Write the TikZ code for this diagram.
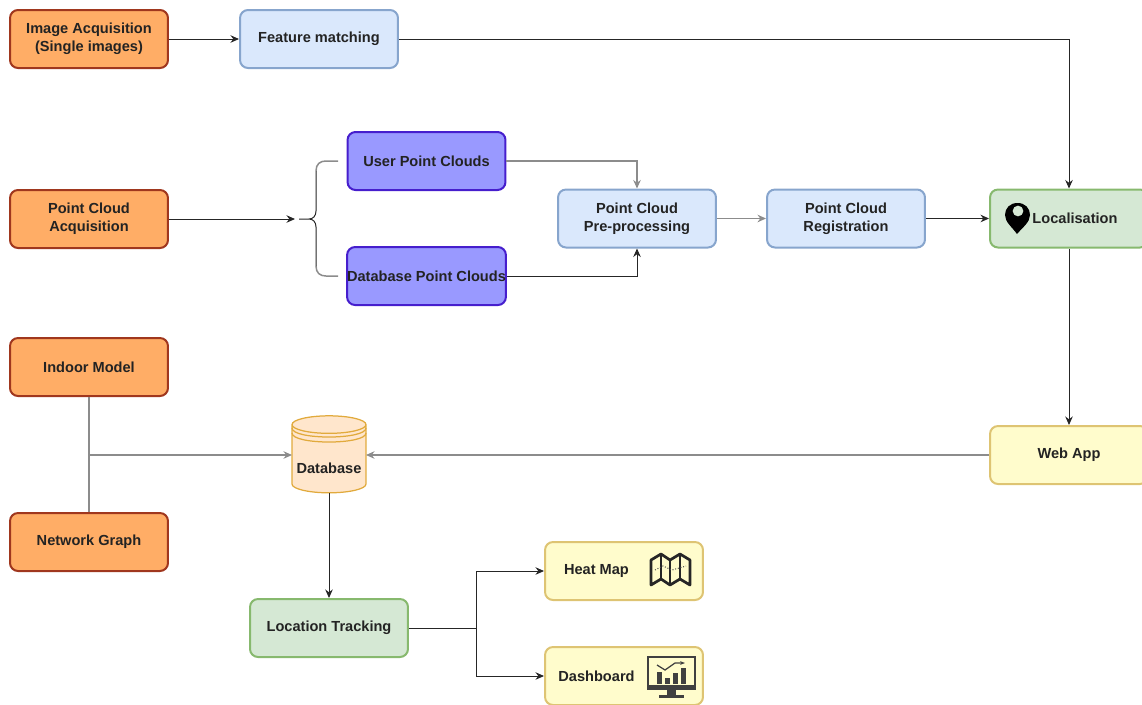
\documentclass[tikz,border=0pt]{standalone}
\usepackage{fontspec}
\setmainfont{Liberation Sans}
\usepackage{xcolor}
\definecolor{myorange}{RGB}{255,173,102}
\definecolor{myorangeline}{RGB}{160,55,30}
\definecolor{myblue}{RGB}{218,232,252}
\definecolor{mybluelin}{RGB}{135,165,205}
\definecolor{mypurple}{RGB}{153,153,255}
\definecolor{mypurpleline}{RGB}{70,30,205}
\definecolor{mygreen}{RGB}{213,232,212}
\definecolor{mygreenline}{RGB}{135,185,110}
\definecolor{myyellow}{RGB}{255,252,204}
\definecolor{myyellowline}{RGB}{222,196,115}
\definecolor{mypeach}{RGB}{255,230,204}
\definecolor{mypeachline}{RGB}{225,170,60}
\definecolor{myink}{RGB}{35,35,35}
\usepackage{tikz}
\usetikzlibrary{positioning}
\usetikzlibrary{arrows.meta}
\usetikzlibrary{shapes.geometric,calc}

\tikzset{
    box/.style={rectangle,rounded corners=0.16cm,line width=0.04cm,minimum width=3.16cm,
        minimum height=1.16cm,align=center,inner sep=0pt,text=myink,
        font=\fontsize{8.3}{10}\selectfont\bfseries},
    orangebox/.style={box,fill=myorange,draw=myorangeline},
    bluebox/.style={box,fill=myblue,draw=mybluelin},
    purplebox/.style={box,fill=mypurple,draw=mypurpleline},
    greenbox/.style={box,fill=mygreen,draw=mygreenline},
    yellowbox/.style={box,fill=myyellow,draw=myyellowline},
    link/.style={draw=black!85,line width=0.02cm},
    paleline/.style={draw=black!45,line width=0.03cm},
}

\begin{document}
\begin{tikzpicture}[x=0.02cm,y=-0.02cm,>={Stealth[length=0.17cm,width=0.15cm]}]
\useasboundingbox (0,0) rectangle (1142,704);

\node[orangebox] (image) at (89,39) {Image Acquisition\\(Single images)};
\node[bluebox] (feature) at (319,39) {Feature matching};
\node[orangebox] (cloud) at (89,219) {Point Cloud\\Acquisition};
\node[purplebox] (user) at (426.5,161) {User Point Clouds};
\node[purplebox] (dbcloud) at (426.5,276) {Database Point Clouds};
\node[bluebox] (pre) at (637,218.5) {Point Cloud\\Pre-processing};
\node[bluebox] (reg) at (846,218.5) {Point Cloud\\Registration};
\node[greenbox] (local) at (1069,218.5) {\hspace*{0.24cm}Localisation};
\node[yellowbox] (web) at (1069,455) {Web App};
\node[orangebox] (indoor) at (89,367) {Indoor Model};
\node[orangebox] (graph) at (89,542) {Network Graph};
\node[greenbox] (track) at (329,628) {Location Tracking};
\node[yellowbox] (heat) at (624,571) {Heat Map\hspace*{1.1cm}};
\node[yellowbox] (dash) at (624,676) {Dashboard\hspace*{1.1cm}};

% database drum
\node[cylinder,shape border rotate=90,aspect=0.27,minimum width=1.48cm,minimum height=1.54cm,
      inner sep=0pt,fill=mypeach,draw=mypeachline,line width=0.025cm,text=myink,
      font=\fontsize{8.3}{10}\selectfont\bfseries] (db) at (329,459) {\raisebox{-0.6cm}{Database}};
\draw[mypeachline,line width=0.025cm] (292,428) .. controls (292,440) and (366,440) .. (366,428);
\draw[mypeachline,line width=0.025cm] (292,433) .. controls (292,445) and (366,445) .. (366,433);

\coordinate (bracetip) at (295,219);
\coordinate (join) at (89,455);
\coordinate (dbleft) at (292,455);
\coordinate (dbright) at (366,455);
\coordinate (branch) at (476,628);

\begin{scope}[every edge/.style={link}]
    \path [->] (image) edge (feature);
    \path [->] (cloud) edge (bracetip);
    \path [->] (reg) edge (local);
    \path [->] (local) edge (web);
    \path [->] (db) edge (track);
    \path [->] (feature) edge[to path={-| (\tikztotarget)}] (local);
    \path [->] (dbcloud) edge[to path={-| (\tikztotarget)}] (pre);
    \path (track) edge (branch);
    \path [->] (branch) edge[to path={|- (\tikztotarget)}] (heat);
    \path [->] (branch) edge[to path={|- (\tikztotarget)}] (dash);
\end{scope}
\begin{scope}[every edge/.style={paleline}]
    \path [->] (user) edge[to path={-| (\tikztotarget)}] (pre);
    \path [->] (pre) edge (reg);
    \path [->] (web) edge (dbright);
    \path [->] (join) edge (dbleft);
    \path (indoor) edge (graph);
\end{scope}

% brace
\draw[paleline] (338,161) -- (326,161) .. controls (320,161) and (316,164) .. (316,171);
\draw[paleline] (338,276) -- (326,276) .. controls (320,276) and (316,273) .. (316,266);
\draw[link] (316,171) -- (316,211) .. controls (316,216) and (313,219) .. (309,219) -- (299,219)
    (309,219) .. controls (313,219) and (316,222) .. (316,227) -- (316,266);

% pin icon
\fill[black,even odd rule] (1017,234) .. controls (1012,227) and (1005,222) .. (1005,215)
    .. controls (1005,208) and (1010,203) .. (1017.5,203) .. controls (1025,203) and (1030,208) .. (1030,215)
    .. controls (1030,222) and (1023,227) .. (1017,234) -- cycle
    (1018,211) circle [radius=5.5];

% map icon
\begin{scope}[line width=0.055cm,draw=black!85,line join=round]
    \draw (651,560) -- (661,554) -- (670,560) -- (680,554) -- (690,560) -- (690,585) -- (680,579)
        -- (670,585) -- (661,579) -- (651,585) -- cycle;
    \draw (661,554) -- (661,579) (670,560) -- (670,585) (680,554) -- (680,579);
\end{scope}
\draw[black!70,line width=0.02cm,densely dotted] (655,570) -- (663,566) -- (672,570) -- (686,566);

% monitor icon
\draw[black!75,line width=0.03cm] (648,686) -- (648,657) -- (695,657) -- (695,686);
\fill[black!75] (647,685) rectangle (696,690);
\fill[black!75] (667,690) rectangle (676,695);
\fill[black!75] (659,695) rectangle (684,698);
\fill[black!75] (657,672) rectangle (662,684);
\fill[black!75] (665,678) rectangle (670,684);
\fill[black!75] (673,673) rectangle (678,684);
\fill[black!75] (681,668) rectangle (686,684);
\draw[black!75,line width=0.025cm,-{Stealth[length=0.1cm]}] (657,665) -- (665,670) -- (675,663) -- (685,663);
\end{tikzpicture}
\end{document}
